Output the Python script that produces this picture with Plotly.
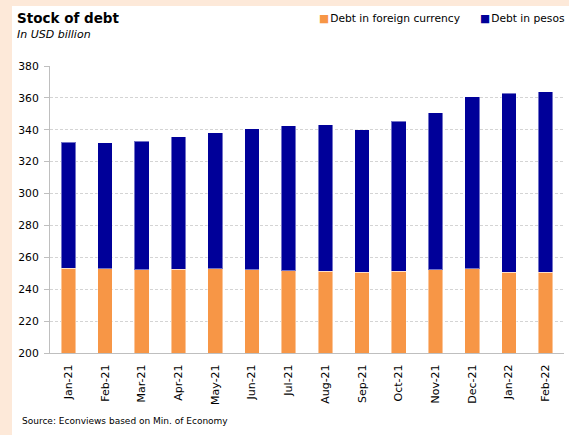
import plotly.graph_objects as go

# Monthly stock of debt, USD billion
months = ["Jan-21", "Feb-21", "Mar-21", "Apr-21", "May-21", "Jun-21", "Jul-21",
          "Aug-21", "Sep-21", "Oct-21", "Nov-21", "Dec-21", "Jan-22", "Feb-22"]
foreign_currency = [253.3, 252.9, 252.1, 252.4, 252.9, 252.3, 251.6,
                    251.4, 250.8, 251.4, 252.3, 252.7, 250.8, 250.6]
pesos = [78.8, 79.1, 80.7, 83.1, 85.3, 88.4, 90.8,
         91.6, 89.1, 94.1, 98.5, 108.1, 112.1, 113.3]
series_names = ["Debt in foreign currency", "Debt in pesos"]
series_colors = ["#F79646", "#000099"]
y_ticks = [200, 220, 240, 260, 280, 300, 320, 340, 360, 380]

W, H = 569, 435
ML, MR, MT, MB = 50, 5, 66, 82
PW, PH = W - ML - MR, H - MT - MB
FONT = "DejaVu Sans"
PEACH = "#FDE9D9"


def px_x(px):
    return (px - ML) / PW


def px_y(py):
    return (H - MB - py) / PH


fig = go.Figure()
for vals, name, color in zip([foreign_currency, pesos], series_names, series_colors):
    fig.add_trace(go.Bar(
        x=months, y=vals, name=name,
        marker=dict(color=color, line=dict(color="rgba(255,255,255,0.45)", width=1)),
        showlegend=False,
    ))

shapes = [
    # peach frame strips along the top and left edges
    dict(type="rect", xref="paper", yref="paper", layer="below",
         x0=px_x(0), x1=px_x(W), y0=px_y(6), y1=px_y(0),
         fillcolor=PEACH, line=dict(width=0)),
    dict(type="rect", xref="paper", yref="paper", layer="below",
         x0=px_x(0), x1=px_x(12), y0=px_y(H), y1=px_y(0),
         fillcolor=PEACH, line=dict(width=0)),
]

annotations = [
    dict(text="<b>Stock of debt</b>", xref="paper", yref="paper",
         x=px_x(15), y=px_y(18), xanchor="left", yanchor="middle",
         showarrow=False, font=dict(family=FONT, size=13.5, color="black")),
    dict(text="<i>In USD billion</i>", xref="paper", yref="paper",
         x=px_x(15), y=px_y(34), xanchor="left", yanchor="middle",
         showarrow=False, font=dict(family=FONT, size=11, color="black")),
    dict(text="Source: Econviews based on Min. of Economy", xref="paper", yref="paper",
         x=px_x(20), y=px_y(421), xanchor="left", yanchor="middle",
         showarrow=False, font=dict(family=FONT, size=9, color="black")),
]

# legend entries: coloured square followed by the series name
legend_x = [317, 478]
for lx, name, color in zip(legend_x, series_names, series_colors):
    annotations.append(dict(
        text=f"<span style='color:{color}'>■</span>&#8202;{name}",
        xref="paper", yref="paper", x=px_x(lx), y=px_y(18),
        xanchor="left", yanchor="middle", showarrow=False,
        font=dict(family=FONT, size=10.7, color="black"),
    ))

fig.update_layout(
    width=W, height=H,
    margin=dict(l=ML, r=MR, t=MT, b=MB, pad=0),
    paper_bgcolor="white", plot_bgcolor="white",
    barmode="stack", bargap=0.6,
    shapes=shapes, annotations=annotations,
    font=dict(family=FONT, color="black"),
)
fig.update_xaxes(
    type="category", tickangle=-90, showgrid=False,
    showline=True, linecolor="#BFBFBF", linewidth=1,
    ticks="", ticklabelstandoff=6,
    tickfont=dict(family=FONT, size=11, color="black"),
)
fig.update_yaxes(
    range=[200, 380], tickvals=y_ticks,
    showgrid=True, gridcolor="#D4D4D4", griddash="3px,2px", gridwidth=1,
    showline=True, linecolor="#BFBFBF", linewidth=1,
    ticks="outside", ticklen=5, tickcolor="#BFBFBF",
    ticklabelstandoff=3, zeroline=False,
    tickfont=dict(family=FONT, size=10.8, color="black"),
)

fig.write_html("out.html")
